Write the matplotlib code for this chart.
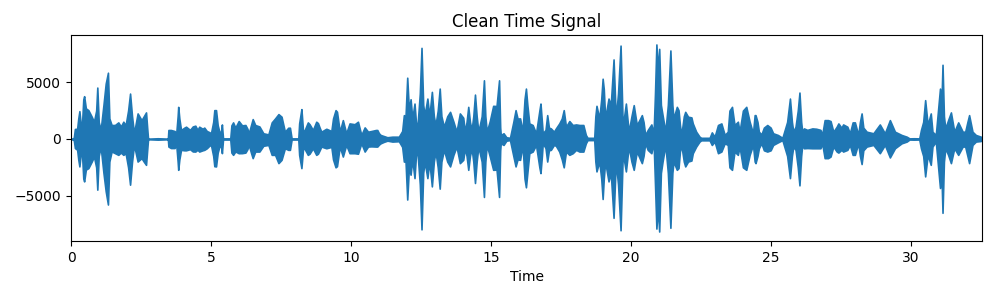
import matplotlib
matplotlib.use("Agg")
import matplotlib.pyplot as plt

# envelope of the waveform: time (s), peak above / below zero
sec = [
    0.00, 0.10, 0.14, 0.22, 0.26, 0.30, 0.34, 0.38, 0.44, 0.47, 0.53, 0.62, 0.74, 0.82, 0.90, 0.94,
    0.99, 1.06, 1.16, 1.24, 1.32, 1.37, 1.45, 1.57, 1.69, 1.78, 1.87, 1.95, 2.04, 2.11, 2.18, 2.25,
    2.38, 2.52, 2.60, 2.68, 2.72, 2.75, 2.80, 3.10, 3.45,
    3.46, 3.48, 3.57, 3.70, 3.76, 3.81, 3.83, 3.87, 3.93, 4.05, 4.11, 4.25, 4.35, 4.44, 4.52, 4.58,
    4.70, 4.76, 4.85, 4.94, 5.00, 5.08, 5.12, 5.18, 5.24, 5.30, 5.36,
    5.39, 5.43, 5.69, 5.73, 5.79, 5.87, 5.99, 6.11, 6.23, 6.30, 6.35, 6.44, 6.49, 6.58, 6.73, 6.87,
    7.05, 7.17, 7.29, 7.41, 7.52, 7.64, 7.76, 7.82, 7.88, 8.12, 8.15,
    8.19, 8.23, 8.29, 8.35, 8.46, 8.52, 8.64, 8.76, 8.82, 8.88, 8.94, 9.12, 9.30, 9.36, 9.45, 9.50,
    9.60, 9.71, 9.83, 9.95, 10.13, 10.25, 10.37, 10.49, 10.61, 10.73, 10.89,
    10.94, 11.00, 11.06, 11.18, 11.30, 11.48, 11.71, 11.83, 11.89, 11.95, 12.01, 12.07, 12.13, 12.19,
    12.27, 12.32, 12.37, 12.46, 12.52, 12.58, 12.63, 12.73, 12.80, 12.89, 12.96, 13.02, 13.10, 13.17,
    13.23, 13.32, 13.44, 13.54,
    13.66, 13.77, 13.89, 14.01, 14.07, 14.13, 14.19, 14.25, 14.31, 14.37, 14.43, 14.49, 14.55, 14.67,
    14.75, 14.80, 14.85, 14.96, 15.08, 15.20, 15.29, 15.33, 15.35, 15.45, 15.55, 15.68, 15.80, 15.88,
    15.95, 16.04, 16.13, 16.20, 16.25,
    16.30, 16.37, 16.49, 16.61, 16.73, 16.77, 16.82, 16.85, 16.95, 17.01, 17.07, 17.14, 17.25, 17.32,
    17.44, 17.53, 17.60, 17.68, 17.80, 17.92, 18.04, 18.16, 18.30, 18.39, 18.45, 18.69, 18.73, 18.77,
    18.87, 18.94, 18.99,
    19.03, 19.08, 19.20, 19.28, 19.38, 19.46, 19.54, 19.63, 19.70, 19.74, 19.82, 19.92, 20.02, 20.10,
    20.21, 20.33, 20.39, 20.45, 20.51, 20.60, 20.73, 20.81, 20.86, 20.91, 20.96, 21.01, 21.07, 21.13,
    21.23, 21.32, 21.41, 21.48, 21.52, 21.64, 21.70, 21.75, 21.80,
    21.89, 21.94, 22.04, 22.16, 22.21, 22.33, 22.45, 22.51, 22.81, 22.89, 22.99, 23.11, 23.23, 23.35,
    23.46, 23.52, 23.61, 23.70, 23.82, 23.88, 24.00, 24.12, 24.24, 24.36, 24.42,
    24.45, 24.52, 24.57, 24.66, 24.75, 24.87, 24.99, 25.08, 25.25, 25.41, 25.58, 25.68, 25.75, 25.80,
    25.88, 25.96, 26.02, 26.08, 26.12, 26.18, 26.30, 26.48, 26.62, 26.77, 26.83, 26.92, 27.04, 27.13,
    27.23, 27.35, 27.41, 27.52, 27.58, 27.73, 27.82, 27.92, 28.00, 28.12, 28.18, 28.24, 28.30, 28.42,
    28.66, 28.89, 29.07, 29.25, 29.43, 29.67, 29.85,
    29.95, 30.10, 30.30, 30.36, 30.44, 30.51, 30.60, 30.71, 30.77, 30.89, 31.04, 31.09, 31.13, 31.18,
    31.23, 31.33, 31.43, 31.55, 31.69, 31.85, 31.94, 32.02, 32.08, 32.20, 32.32, 32.50, 32.54,
]
upper = [
    0, 100, 880, 900, 1800, 2450, 1500, 640, 3500, 3770, 2700, 2540, 1960, 1520, 2500, 4530,
    1500, 790, 3000, 4880, 5840, 1810, 1230, 1230, 1460, 1100, 1520, 1200, 2500, 4000, 2000, 500,
    2250, 1660, 2000, 2340, 1000, 80, 30, 60, 30,
    0, 790, 790, 700, 500, 2000, 2830, 1800, 790, 1000, 1080, 800, 1100, 1170, 800, 1080,
    900, 1000, 700, 600, 500, 1500, 2540, 2540, 1200, 640, 640,
    1280, 50, 50, 1200, 1460, 1000, 1580, 1200, 1230, 900, 500, 1300, 1750, 1230, 1100, 500,
    400, 1460, 1810, 2190, 1960, 640, 990, 990, 50, 50, 1370,
    2000, 2630, 640, 800, 1460, 1300, 790, 1520, 1400, 1000, 640, 900, 700, 1800, 2540, 2400,
    640, 1660, 500, 1370, 1300, 1520, 350, 1020, 640, 700, 790,
    790, 500, 350, 250, 150, 200, 200, 700, 2100, 2000, 5400, 2500, 3500, 1800,
    3120, 1500, 930, 4000, 8030, 3000, 2100, 3560, 2000, 4150, 2000, 1230, 2500, 4440,
    2000, 1080, 2000, 2390,
    1520, 640, 2250, 1870, 640, 1500, 2830, 1500, 790, 2000, 3910, 2000, 640, 2000,
    5170, 2000, 640, 1580, 2920, 2900, 5170, 1000, 350, 500, 150, 100, 1500, 2540,
    1800, 1810, 640, 3500, 4440,
    3000, 1370, 1230, 500, 2500, 3120, 1500, 500, 800, 2100, 1000, 930, 640, 930,
    1370, 1800, 2540, 1080, 1580, 1230, 1280, 1230, 1230, 350, 100, 100, 2000, 2920,
    1810, 3500, 5310,
    4400, 1810, 3560, 3000, 7010, 1810, 4000, 8230, 1810, 1660, 3120, 640, 2000, 2980,
    1230, 1800, 2100, 1500, 350, 790, 1280, 500, 4000, 8330, 6000, 7940, 3000, 2100,
    640, 3000, 7800, 3000, 1810, 2830, 2540, 1230, 350,
    2000, 2390, 1960, 1900, 1370, 640, 200, 100, 100, 580, 200, 1230, 1370, 350,
    640, 2500, 2830, 1230, 1520, 640, 2500, 2830, 1520, 500, 2100,
    2100, 1500, 640, 400, 1000, 1230, 1000, 500, 350, 100, 1500, 3560, 1500, 640,
    1080, 2500, 4090, 1500, 640, 930, 800, 930, 900, 800, 350, 1660, 1660, 1580,
    640, 1080, 1370, 990, 1280, 1080, 500, 1460, 1460, 350, 1500, 2250, 1000, 640,
    500, 1280, 500, 1660, 640, 350, 200,
    50, 60, 50, 790, 1500, 3420, 1230, 2250, 640, 350, 4440, 3000, 6540, 2000,
    930, 1660, 2340, 640, 1460, 640, 640, 1500, 2100, 640, 350, 200, 0,
]
lower = [
    0, -100, -800, -950, -1800, -2420, -1500, -670, -3500, -3740, -2700, -2570, -1990, -1550, -2500, -4470,
    -1500, -670, -3000, -4610, -5780, -1990, -1100, -1250, -1400, -1200, -1400, -1250, -2500, -4030, -2000, -525,
    -1990, -1690, -2000, -2280, -1000, -80, -30, -60, -30,
    0, -670, -800, -800, -500, -2000, -2720, -1800, -960, -1000, -1000, -900, -1100, -1110, -950, -1110,
    -1000, -960, -820, -600, -525, -1500, -2400, -2420, -1200, -670, -670,
    -1250, -50, -50, -1200, -1400, -1100, -1255, -1250, -1200, -900, -525, -1300, -1690, -1110, -1110, -600,
    -525, -1400, -1400, -2130, -1840, -820, -960, -960, -50, -50, -1400,
    -2000, -2570, -820, -900, -1400, -1300, -820, -1400, -1300, -1000, -670, -820, -700, -1800, -2500, -2400,
    -670, -1550, -525, -1255, -1255, -1300, -380, -1110, -670, -650, -670,
    -670, -500, -380, -250, -150, -230, -200, -700, -1990, -2000, -5340, -2500, -3150, -1800,
    -3450, -1500, -960, -4000, -7970, -3000, -1990, -3450, -2000, -4180, -2000, -1110, -2500, -4380,
    -2000, -960, -2000, -2420,
    -1400, -670, -2130, -1840, -820, -1500, -2720, -1500, -820, -2000, -3880, -2000, -670, -2000,
    -5110, -2000, -525, -1550, -2720, -2700, -5110, -1000, -380, -525, -150, -100, -1500, -2420,
    -1800, -1840, -525, -3500, -4260,
    -3000, -1255, -1110, -525, -2500, -3010, -1500, -380, -800, -1990, -1000, -960, -525, -600,
    -1110, -1800, -2500, -1110, -1400, -1255, -960, -1110, -1110, -380, -100, -100, -2000, -2860,
    -1990, -3500, -5290,
    -3500, -1990, -3740, -3000, -6950, -1990, -4000, -8050, -1990, -1690, -2860, -670, -2000, -2720,
    -1110, -1800, -2130, -1500, -380, -960, -1255, -230, -4000, -7900, -6000, -8160, -3000, -1990,
    -525, -3000, -7830, -3000, -1990, -2720, -2570, -1110, -525,
    -2000, -2420, -1990, -1900, -1255, -670, -230, -120, -120, -530, -230, -1255, -1110, -380,
    -525, -2500, -2720, -1110, -1400, -670, -2500, -2720, -1400, -525, -1990,
    -2130, -1500, -820, -380, -1000, -1110, -1000, -525, -300, -100, -1500, -3450, -1500, -670,
    -960, -2500, -4090, -1500, -525, -820, -800, -820, -820, -820, -380, -1690, -1690, -1550,
    -670, -1110, -1200, -960, -1110, -960, -525, -1400, -1400, -380, -1500, -2210, -1000, -670,
    -525, -1255, -525, -1630, -820, -380, -230,
    -50, -60, -50, -820, -1500, -3300, -1400, -2280, -670, -230, -4320, -3000, -6510, -2000,
    -820, -1400, -2130, -820, -1400, -670, -670, -1500, -2130, -525, -230, -180, 0,
]

fig, ax = plt.subplots(figsize=(10, 3), dpi=100)
fig.subplots_adjust(left=0.071, right=0.982, top=0.883, bottom=0.197)

ax.fill_between(sec, lower, upper, color="#1f77b4", linewidth=1.2)
ax.set_xlim(sec[0], sec[-1])
ax.set_title("Clean Time Signal")
ax.set_xlabel("Time")

fig.savefig("out.png")
